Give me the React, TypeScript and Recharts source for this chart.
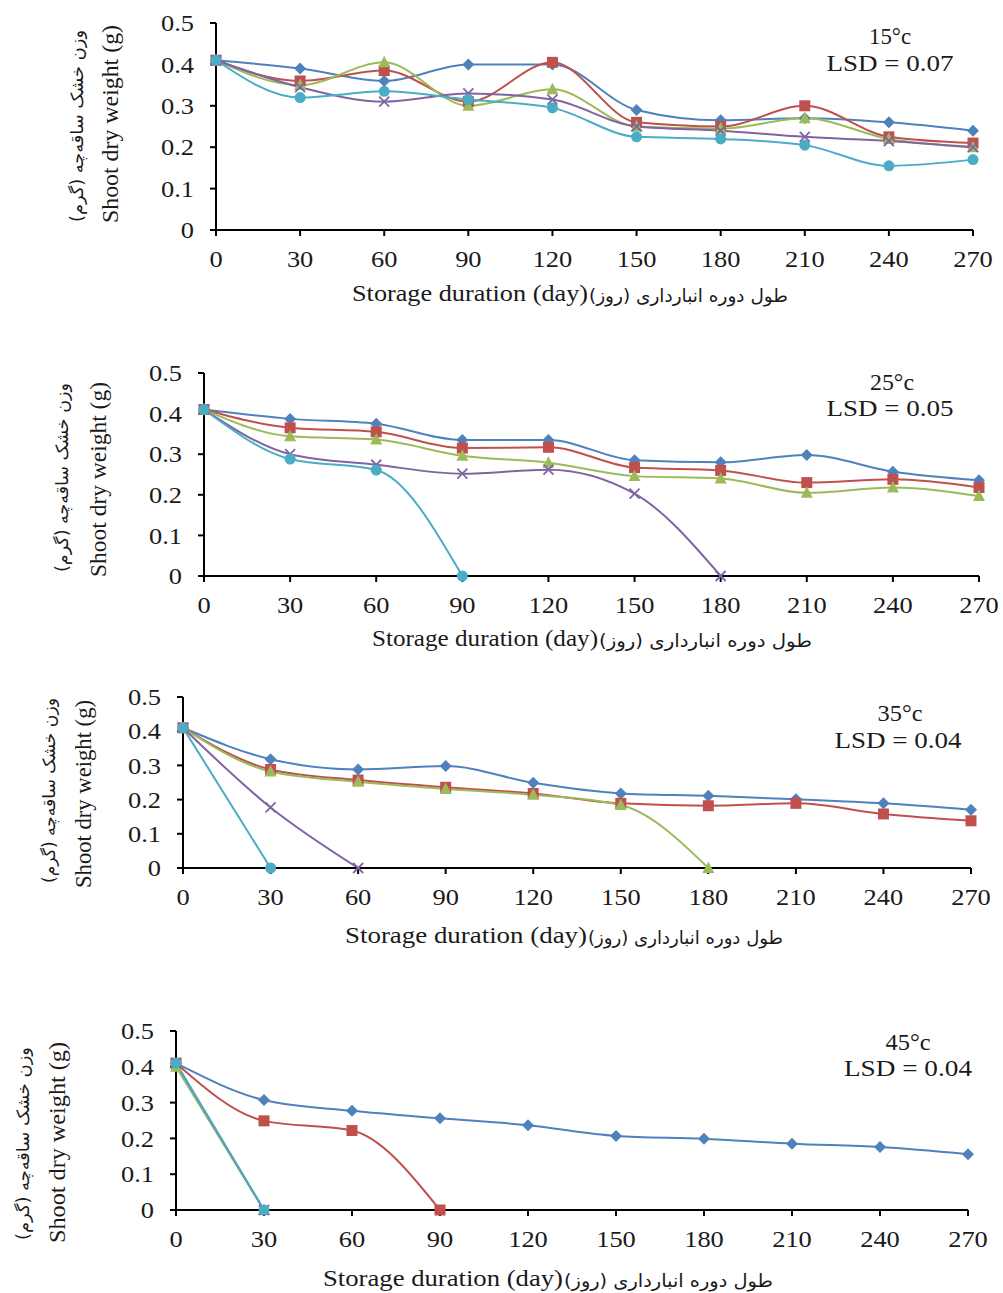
import React from "react";
import { LineChart, Line, XAxis, YAxis } from "recharts";

const DAYS = [0, 30, 60, 90, 120, 150, 180, 210, 240, 270];
const Y_TICKS = [0, 0.1, 0.2, 0.3, 0.4, 0.5];

// 15 °C
const T15_BLUE = [0.41, 0.39, 0.36, 0.4, 0.4, 0.29, 0.265, 0.27, 0.26, 0.24];
const T15_RED = [0.41, 0.36, 0.385, 0.31, 0.405, 0.26, 0.25, 0.3, 0.225, 0.21];
const T15_GREEN = [0.41, 0.35, 0.405, 0.3, 0.34, 0.25, 0.245, 0.27, 0.22, 0.2];
const T15_PURPLE = [0.41, 0.345, 0.31, 0.33, 0.315, 0.25, 0.24, 0.225, 0.215, 0.2];
const T15_CYAN = [0.41, 0.32, 0.335, 0.315, 0.295, 0.225, 0.22, 0.205, 0.155, 0.17];

// 25 °C
const T25_BLUE = [0.41, 0.387, 0.375, 0.335, 0.335, 0.285, 0.28, 0.298, 0.257, 0.236];
const T25_RED = [0.41, 0.365, 0.355, 0.315, 0.317, 0.267, 0.26, 0.23, 0.238, 0.218];
const T25_GREEN = [0.41, 0.344, 0.336, 0.296, 0.279, 0.246, 0.24, 0.205, 0.218, 0.197];
const T25_PURPLE = [0.41, 0.3, 0.274, 0.252, 0.262, 0.203, 0, null, null, null];
const T25_CYAN = [0.41, 0.288, 0.261, 0, null, null, null, null, null, null];

// 35 °C
const T35_BLUE = [0.41, 0.318, 0.288, 0.298, 0.249, 0.218, 0.211, 0.201, 0.189, 0.17];
const T35_RED = [0.41, 0.288, 0.257, 0.236, 0.218, 0.189, 0.182, 0.189, 0.158, 0.138];
const T35_GREEN = [0.41, 0.282, 0.252, 0.231, 0.214, 0.184, 0, null, null, null];
const T35_PURPLE = [0.41, 0.177, 0, null, null, null, null, null, null, null];
const T35_CYAN = [0.41, 0, null, null, null, null, null, null, null, null];

// 45 °C
const T45_BLUE = [0.41, 0.307, 0.277, 0.256, 0.237, 0.207, 0.199, 0.185, 0.176, 0.156];
const T45_RED = [0.41, 0.249, 0.222, 0, null, null, null, null, null, null];
const T45_GREEN = [0.4, 0, null, null, null, null, null, null, null, null];
const T45_PURPLE = [0.41, 0, null, null, null, null, null, null, null, null];
const T45_CYAN = [0.41, 0, null, null, null, null, null, null, null, null];

const TEMPS = ["15°c", "25°c", "35°c", "45°c"];
const LSDS = ["LSD = 0.07", "LSD = 0.05", "LSD = 0.04", "LSD = 0.04"];

const X_TITLE_EN = "Storage duration (day)";
const X_TITLE_FA = "طول دوره انبارداری (روز)\u200F";
const Y_TITLE_EN = "Shoot dry weight (g)";
const Y_TITLE_FA = "وزن خشک ساقه‌چه (گرم)\u200F";

const COLORS = {
  blue: "#4F81BD",
  red: "#C0504D",
  green: "#9BBB59",
  purple: "#8064A2",
  cyan: "#4BACC6",
};

const SERIF = "'Liberation Serif', 'Times New Roman', serif";
const FA_FONT = "'DejaVu Sans', sans-serif";
const INK = "#1a1a1a";

const buildRows = (s1, s2, s3, s4, s5) =>
  DAYS.map((d, i) => ({ day: d, s1: s1[i], s2: s2[i], s3: s3[i], s4: s4[i], s5: s5[i] }));

const DATASETS = [
  buildRows(T15_BLUE, T15_RED, T15_GREEN, T15_PURPLE, T15_CYAN),
  buildRows(T25_BLUE, T25_RED, T25_GREEN, T25_PURPLE, T25_CYAN),
  buildRows(T35_BLUE, T35_RED, T35_GREEN, T35_PURPLE, T35_CYAN),
  buildRows(T45_BLUE, T45_RED, T45_GREEN, T45_PURPLE, T45_CYAN),
];

// page layout of each panel (plot box + label boxes in page pixels)
const PANELS = [
  { top: 0, height: 320, pl: 216, pr: 973, pt: 23, pb: 230,
    temp: [890, 36, 42], lsd: [890, 63, 127],
    xEn: [352, 588, 293], xFa: [588, 788],
    yEn: [110, 25, 223], yFa: [77, 30, 222] },
  { top: 330, height: 330, pl: 204, pr: 979, pt: 373, pb: 576,
    temp: [892, 382, 44], lsd: [890, 408, 127],
    xEn: [372, 598, 638], xFa: [598, 812],
    yEn: [98, 382, 577], yFa: [62, 383, 572] },
  { top: 660, height: 300, pl: 183, pr: 971, pt: 697, pb: 868,
    temp: [900, 713, 45], lsd: [898, 740, 127],
    xEn: [345, 587, 935], xFa: [587, 783],
    yEn: [83, 700, 888], yFa: [49, 698, 883] },
  { top: 1000, height: 293, pl: 176, pr: 968, pt: 1031, pb: 1210,
    temp: [908, 1042, 45], lsd: [908, 1068, 128],
    xEn: [323, 563, 1278], xFa: [563, 773],
    yEn: [57, 1042, 1243], yFa: [23, 1047, 1240] },
];

const Y_AXIS_W = 40;
const X_AXIS_H = 30;
const TICK_FONT = 23;
const TICK_STRETCH = 1.15;

const makeDot = (shape, color) => (props) => {
  const { cx, cy, index, value } = props;
  const key = `dot-${shape}-${index}`;
  if (cx == null || cy == null || value == null) return <g key={key} />;
  if (shape === "diamond")
    return <polygon key={key} points={`${cx},${cy - 6} ${cx + 6},${cy} ${cx},${cy + 6} ${cx - 6},${cy}`} fill={color} />;
  if (shape === "square")
    return <rect key={key} x={cx - 5.5} y={cy - 5.5} width={11} height={11} fill={color} />;
  if (shape === "triangle")
    return <polygon key={key} points={`${cx},${cy - 6.5} ${cx + 6},${cy + 5} ${cx - 6},${cy + 5}`} fill={color} />;
  if (shape === "x")
    return (
      <g key={key} stroke={color} strokeWidth={1.8}>
        <line x1={cx - 5} y1={cy - 5} x2={cx + 5} y2={cy + 5} />
        <line x1={cx - 5} y1={cy + 5} x2={cx + 5} y2={cy - 5} />
      </g>
    );
  return <circle key={key} cx={cx} cy={cy} r={5.5} fill={color} />;
};

const SERIES = [
  { key: "s1", color: COLORS.blue, shape: "diamond" },
  { key: "s2", color: COLORS.red, shape: "square" },
  { key: "s3", color: COLORS.green, shape: "triangle" },
  { key: "s4", color: COLORS.purple, shape: "x" },
  { key: "s5", color: COLORS.cyan, shape: "circle" },
];

const XTick = ({ x, y, payload }) => (
  <text
    x={0}
    y={0}
    dy="0.71em"
    transform={`translate(${x},${y}) scale(${TICK_STRETCH},1)`}
    textAnchor="middle"
    fill={INK}
    fontSize={TICK_FONT}
    fontFamily={SERIF}
  >
    {payload.value}
  </text>
);

const YTick = ({ x, y, payload }) => (
  <text
    x={0}
    y={0}
    dy="0.355em"
    transform={`translate(${x},${y}) scale(${TICK_STRETCH},1)`}
    textAnchor="end"
    fill={INK}
    fontSize={TICK_FONT}
    fontFamily={SERIF}
  >
    {payload.value === 0 ? "0" : Number(payload.value).toFixed(1)}
  </text>
);

function Panel({ idx }) {
  const p = PANELS[idx];
  const margin = {
    top: p.pt - p.top,
    bottom: p.top + p.height - p.pb - X_AXIS_H,
    left: p.pl - Y_AXIS_W,
    right: 1003 - p.pr,
  };
  return (
    <div style={{ position: "absolute", left: 0, top: p.top }}>
      <LineChart width={1003} height={p.height} data={DATASETS[idx]} margin={margin}>
        <XAxis
          dataKey="day"
          type="number"
          domain={[0, 270]}
          ticks={DAYS}
          interval={0}
          height={X_AXIS_H}
          axisLine={{ stroke: "#000", strokeWidth: 2 }}
          tickLine={{ stroke: "#000", strokeWidth: 2 }}
          tickSize={6}
          tickMargin={15}
          tick={XTick}
        />
        <YAxis
          type="number"
          domain={[0, 0.5]}
          ticks={Y_TICKS}
          interval={0}
          width={Y_AXIS_W}
          axisLine={{ stroke: "#000", strokeWidth: 2 }}
          tickLine={{ stroke: "#000", strokeWidth: 2 }}
          tickSize={6}
          tickMargin={16}
          tick={YTick}
        />
        {SERIES.map((s) => (
          <Line
            key={s.key}
            dataKey={s.key}
            type="monotone"
            stroke={s.color}
            strokeWidth={2}
            dot={makeDot(s.shape, s.color)}
            activeDot={false}
            connectNulls={false}
            isAnimationActive={false}
          />
        ))}
      </LineChart>
    </div>
  );
}

const fit = "spacingAndGlyphs";

function Labels() {
  return (
    <svg
      width={1003}
      height={1293}
      style={{ position: "absolute", left: 0, top: 0, pointerEvents: "none" }}
    >
      {PANELS.map((p, i) => {
        const yEnC = (p.yEn[1] + p.yEn[2]) / 2;
        const yFaC = (p.yFa[1] + p.yFa[2]) / 2;
        return (
          <g key={i} fill={INK}>
            <text x={p.temp[0]} y={p.temp[1]} textAnchor="middle" dominantBaseline="central"
              fontFamily={SERIF} fontSize={24} textLength={p.temp[2]} lengthAdjust={fit}>
              {TEMPS[i]}
            </text>
            <text x={p.lsd[0]} y={p.lsd[1]} textAnchor="middle" dominantBaseline="central"
              fontFamily={SERIF} fontSize={24} textLength={p.lsd[2]} lengthAdjust={fit}>
              {LSDS[i]}
            </text>
            <text x={p.xEn[0]} y={p.xEn[2]} textAnchor="start" dominantBaseline="central"
              fontFamily={SERIF} fontSize={24} textLength={p.xEn[1] - p.xEn[0]} lengthAdjust={fit}>
              {X_TITLE_EN}
            </text>
            <text x={p.xFa[0] + 1} y={p.xEn[2] + 2} textAnchor="start" dominantBaseline="central"
              fontFamily={FA_FONT} fontSize={18} textLength={p.xFa[1] - p.xFa[0] - 1} lengthAdjust={fit}>
              {X_TITLE_FA}
            </text>
            <text x={p.yEn[0]} y={yEnC} textAnchor="middle" dominantBaseline="central"
              fontFamily={SERIF} fontSize={24} textLength={p.yEn[2] - p.yEn[1]} lengthAdjust={fit}
              transform={`rotate(-90 ${p.yEn[0]} ${yEnC})`}>
              {Y_TITLE_EN}
            </text>
            <text x={p.yFa[0]} y={yFaC} textAnchor="middle" dominantBaseline="central"
              fontFamily={FA_FONT} fontSize={17} textLength={p.yFa[2] - p.yFa[1]} lengthAdjust={fit}
              transform={`rotate(-90 ${p.yFa[0]} ${yFaC})`}>
              {Y_TITLE_FA}
            </text>
          </g>
        );
      })}
    </svg>
  );
}

export default function App() {
  return (
    <div style={{ position: "absolute", left: 0, top: 0, width: 1003, height: 1293, background: "#fff", overflow: "hidden" }}>
      {PANELS.map((_, i) => (
        <Panel key={i} idx={i} />
      ))}
      <Labels />
    </div>
  );
}
